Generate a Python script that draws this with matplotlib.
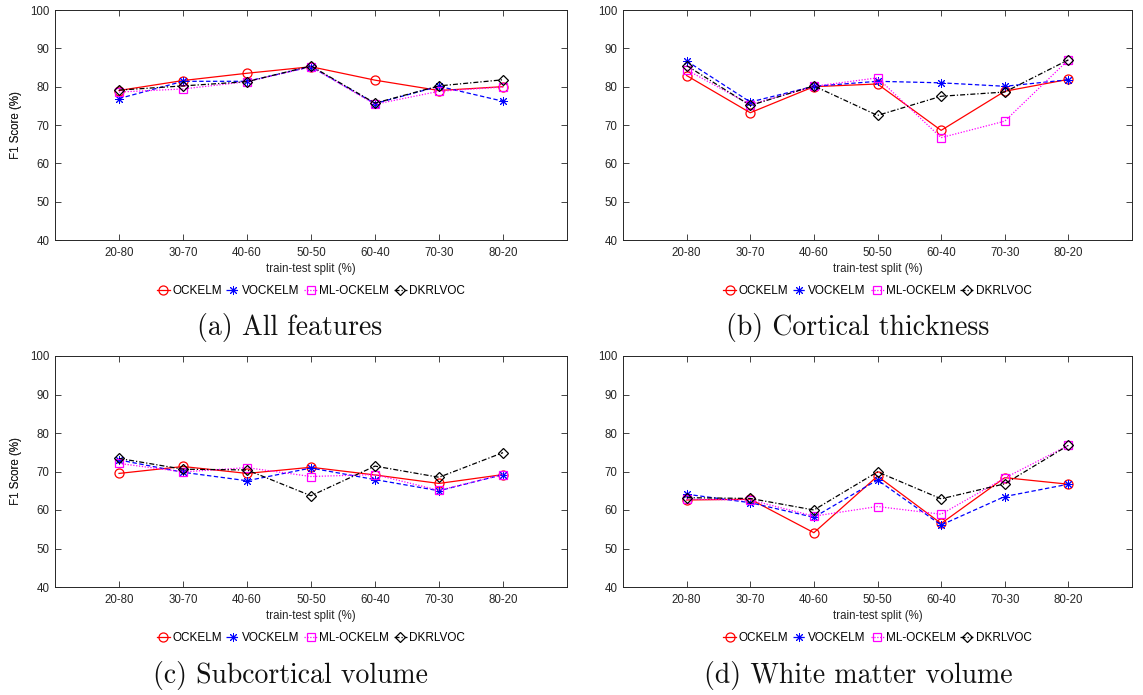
from matplotlib import pyplot as plt
import numpy as np

# train-test splits on the x axis
splits = ['20-80', '30-70', '40-60', '50-50', '60-40', '70-30', '80-20']
methods = ['OCKELM', 'VOCKELM', 'ML-OCKELM', 'DKRLVOC']

# (a) All features
ockelm_a = [79.0, 81.6, 83.5, 85.2, 81.7, 79.0, 80.0]
vockelm_a = [76.9, 81.4, 81.4, 85.2, 75.6, 80.1, 76.2]
mlockelm_a = [78.6, 79.4, 81.3, 85.2, 75.4, 78.8, 79.9]
dkrlvoc_a = [79.1, 80.2, 81.3, 85.4, 75.7, 80.2, 81.8]

# (b) Cortical thickness
ockelm_b = [82.9, 73.2, 80.0, 80.7, 68.6, 78.8, 81.9]
vockelm_b = [86.7, 76.0, 80.1, 81.4, 81.0, 80.1, 81.8]
mlockelm_b = [84.4, 75.3, 80.1, 82.3, 66.7, 71.0, 87.0]
dkrlvoc_b = [85.5, 75.1, 80.2, 72.5, 77.5, 78.6, 87.0]

# (c) Subcortical volume
ockelm_c = [69.5, 71.3, 69.5, 71.1, 69.1, 66.9, 69.2]
vockelm_c = [73.0, 69.8, 67.6, 70.9, 67.9, 65.0, 69.2]
mlockelm_c = [72.1, 69.9, 71.0, 68.7, 69.2, 65.1, 69.2]
dkrlvoc_c = [73.4, 70.6, 70.4, 63.7, 71.4, 68.5, 74.9]

# (d) White matter volume
ockelm_d = [62.6, 62.8, 54.1, 68.8, 56.5, 68.4, 66.7]
vockelm_d = [64.1, 61.9, 58.1, 67.8, 56.1, 63.5, 66.7]
mlockelm_d = [62.8, 62.6, 58.4, 60.9, 58.9, 68.3, 76.8]
dkrlvoc_d = [63.2, 63.0, 60.0, 69.9, 62.9, 66.8, 76.8]

captions = ['(a) All features', '(b) Cortical thickness',
            '(c) Subcortical volume', '(d) White matter volume']

panels = [[ockelm_a, vockelm_a, mlockelm_a, dkrlvoc_a],
          [ockelm_b, vockelm_b, mlockelm_b, dkrlvoc_b],
          [ockelm_c, vockelm_c, mlockelm_c, dkrlvoc_c],
          [ockelm_d, vockelm_d, mlockelm_d, dkrlvoc_d]]

# matlab-like line styles: color, linestyle, marker, marker size, marker edge width
styles = [('#ff0000', '-', 'o', 6.5, 0.9),
          ('#0000ff', (0, (3.5, 2.0)), (8, 2, 0), 6.5, 0.7),
          ('#ff00ff', (0, (1, 1.3)), 's', 5.5, 0.9),
          ('#000000', (0, (4, 1.6, 1, 1.6)), 'D', 5, 0.9)]

plt.rcParams['font.family'] = ['Liberation Sans', 'DejaVu Sans']
txt_col = '#262626'

W, H = 1143, 695
fig = plt.figure(figsize=(W / 100, H / 100), dpi=100)

# axes boxes in pixels (left, top, right, bottom)
boxes = [(55, 10, 567, 240), (623, 10, 1132, 240),
         (55, 356, 567, 587), (623, 356, 1132, 587)]
cap_pos = [(290, 328), (858, 328), (290, 675), (858, 675)]

x = np.arange(1, len(splits) + 1)

for k, (l, t, r, b) in enumerate(boxes):
    ax = fig.add_axes([l / W, 1 - b / H, (r - l) / W, (b - t) / H])
    h_px = b - t
    w_px = r - l

    for series, name, (col, ls, mk, ms, mew) in zip(panels[k], methods, styles):
        ax.plot(x, series, color=col, linestyle=ls, linewidth=0.9, marker=mk,
                markersize=ms, markerfacecolor='none', markeredgecolor=col,
                markeredgewidth=mew, label=name)

    ax.set_xlim(0, 8)
    ax.set_ylim(40, 100)
    ax.set_xticks(x)
    ax.set_xticklabels(splits)
    ax.set_yticks(np.arange(40, 101, 10))

    ax.tick_params(direction='in', length=4, width=0.6, top=True, right=True,
                   labelsize=8.3, colors=txt_col)
    ax.tick_params(axis='x', pad=5)
    ax.tick_params(axis='y', pad=4)
    for sp in ax.spines.values():
        sp.set_color(txt_col)
        sp.set_linewidth(0.7)

    ax.set_xlabel('train-test split (%)', fontsize=8.3, color=txt_col)
    ax.xaxis.label.set_va('center')
    ax.xaxis.set_label_coords(0.5, -29 / h_px)
    ax.set_ylabel('F1 Score (%)', fontsize=8.3, color=txt_col)
    ax.yaxis.label.set_va('center')
    ax.yaxis.set_label_coords(-(l - 16) / w_px, 0.5)

    ax.legend(loc='center', bbox_to_anchor=(0.5, -51 / h_px), ncol=4,
              frameon=False, fontsize=8.5, handlelength=1.1,
              handletextpad=0.2, columnspacing=0.4, borderpad=0)

    cx, cy = cap_pos[k]
    fig.text(cx / W, 1 - cy / H, captions[k], family='cmr10', fontsize=20,
             ha='center', va='center', color='#111111')

plt.savefig('out.png', dpi=100)
plt.close()
